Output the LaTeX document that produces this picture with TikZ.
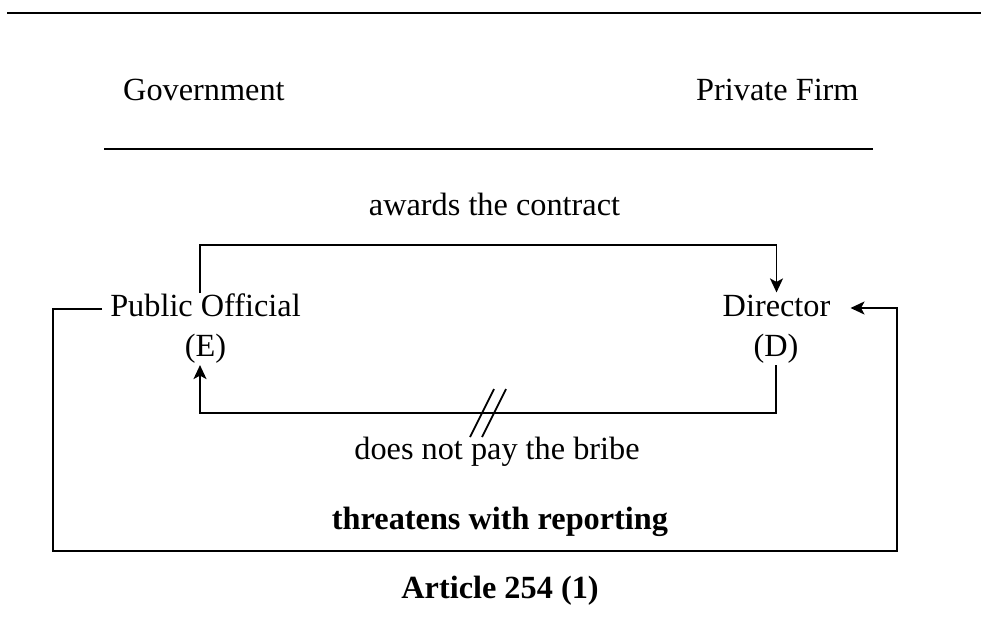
\documentclass[tikz,border=0pt]{standalone}
\usepackage{fontspec}
\setmainfont{Liberation Serif}
\usetikzlibrary{arrows.meta}
\begin{document}
\begin{tikzpicture}[x=1pt,y=-1pt,
  lbl/.style={inner sep=0pt, anchor=base, font=\fontsize{32.3}{40}\selectfont},
  wire/.style={line width=1.8pt},
  arr/.style={wire, -{Stealth[length=14pt,width=13pt,inset=3.5pt]}},
  rule/.style={line width=2.2pt}]
\useasboundingbox (0,0) rectangle (981,622);
% rules
\coordinate (r1a) at (7,13); \coordinate (r1b) at (981,13);
\coordinate (r2a) at (104,149); \coordinate (r2b) at (873,149);
\draw[rule, line width=2.8pt] (r1a) -- (r1b);
\draw[rule] (r2a) -- (r2b);
% headings
\node[lbl, anchor=base west] (gov) at (123,100) {Government};
\node[lbl, anchor=base west] (firm) at (696,100) {Private Firm};
% actors
\node[lbl] (pe) at (205.5,316) {Public Official};
\node[lbl] (peE) at (205.5,356) {(E)};
\node[lbl] (dir) at (776.5,316) {Director};
\node[lbl] (dirD) at (776,356) {(D)};
% labels
\node[lbl] (awards) at (494.5,215) {awards the contract};
\node[lbl] (nopay) at (497,459) {does not pay the bribe};
\node[lbl, font=\fontsize{32.3}{40}\selectfont\bfseries] (threat) at (500,529) {threatens with reporting};
\node[lbl, font=\fontsize{32.3}{40}\selectfont\bfseries] (art) at (500,598) {Article 254 (1)};
% awards the contract
\coordinate (a1) at (200,245);
\draw[arr] (pe.north -| a1) -- (a1) -| ([yshift=2pt]dir.north);
% does not pay the bribe
\coordinate (b1) at (200,413);
\draw[arr] ([yshift=-2pt]dirD.south) |- (b1) -- ([yshift=-2pt]peE.south -| b1);
\coordinate (s1) at (482,413); \coordinate (s2) at (494,413);
\draw[wire] ([shift={(-12,24)}]s1) -- ([shift={(12,-24)}]s1);
\draw[wire] ([shift={(-12,24)}]s2) -- ([shift={(12,-24)}]s2);
% threatens with reporting
\coordinate (t1) at (53,551); \coordinate (t2) at (897,551);
\draw[arr] ([shift={(-8,-7)}]pe.base west) -| (t1) -- (t2) |- ([shift={(20,-8)}]dir.base east);
\end{tikzpicture}
\end{document}
